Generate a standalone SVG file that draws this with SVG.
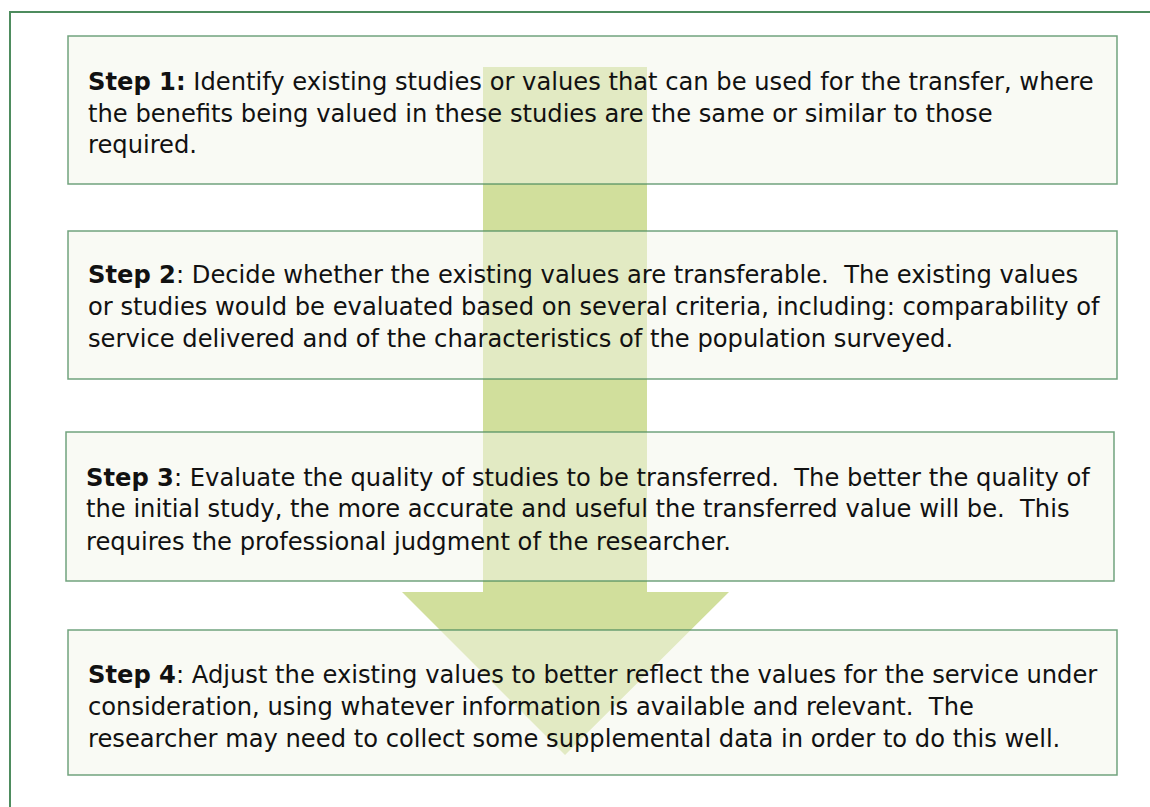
<svg xmlns="http://www.w3.org/2000/svg" width="1150" height="807" viewBox="0 0 1150 807">
<style>
.frame{fill:none;stroke:#4e8c5e;stroke-width:2}
.box{fill:#f3f5e9;fill-opacity:0.5;stroke:#4e8c5e;stroke-opacity:0.8;stroke-width:1.5}
text{font-family:"DejaVu Sans","Verdana",sans-serif;font-size:24.2px;fill:#111;white-space:pre}
.b{font-weight:bold}
</style>
<rect x="0" y="0" width="1150" height="807" fill="#ffffff"/>
<rect class="frame" x="10" y="12" width="1160" height="820"/>
<g id="connectors">
<path d="M483,67 H647 V592 H729 L565,755 L402,592 H483 Z" fill="#d1df9c"/>
</g>
<g id="step1">
<rect class="box" x="68" y="36" width="1049" height="148"/>
<text x="88" y="90"><tspan class="b">Step 1:</tspan> Identify existing studies or values that can be used for the transfer, where</text>
<text x="88" y="122">the benefits being valued in these studies are the same or similar to those</text>
<text x="88" y="153">required.</text>
</g>
<g id="step2">
<rect class="box" x="68" y="231" width="1049" height="148"/>
<text x="88" y="283"><tspan class="b">Step 2</tspan>: Decide whether the existing values are transferable.  The existing values</text>
<text x="88" y="315">or studies would be evaluated based on several criteria, including: comparability of</text>
<text x="88" y="347">service delivered and of the characteristics of the population surveyed.</text>
</g>
<g id="step3">
<rect class="box" x="66" y="432" width="1048" height="149"/>
<text x="86" y="486"><tspan class="b">Step 3</tspan>: Evaluate the quality of studies to be transferred.  The better the quality of</text>
<text x="86" y="517">the initial study, the more accurate and useful the transferred value will be.  This</text>
<text x="86" y="550">requires the professional judgment of the researcher.</text>
</g>
<g id="step4">
<rect class="box" x="68" y="630" width="1049" height="145"/>
<text x="88" y="683"><tspan class="b">Step 4</tspan>: Adjust the existing values to better reflect the values for the service under</text>
<text x="88" y="715">consideration, using whatever information is available and relevant.  The</text>
<text x="88" y="747">researcher may need to collect some supplemental data in order to do this well.</text>
</g>
</svg>
